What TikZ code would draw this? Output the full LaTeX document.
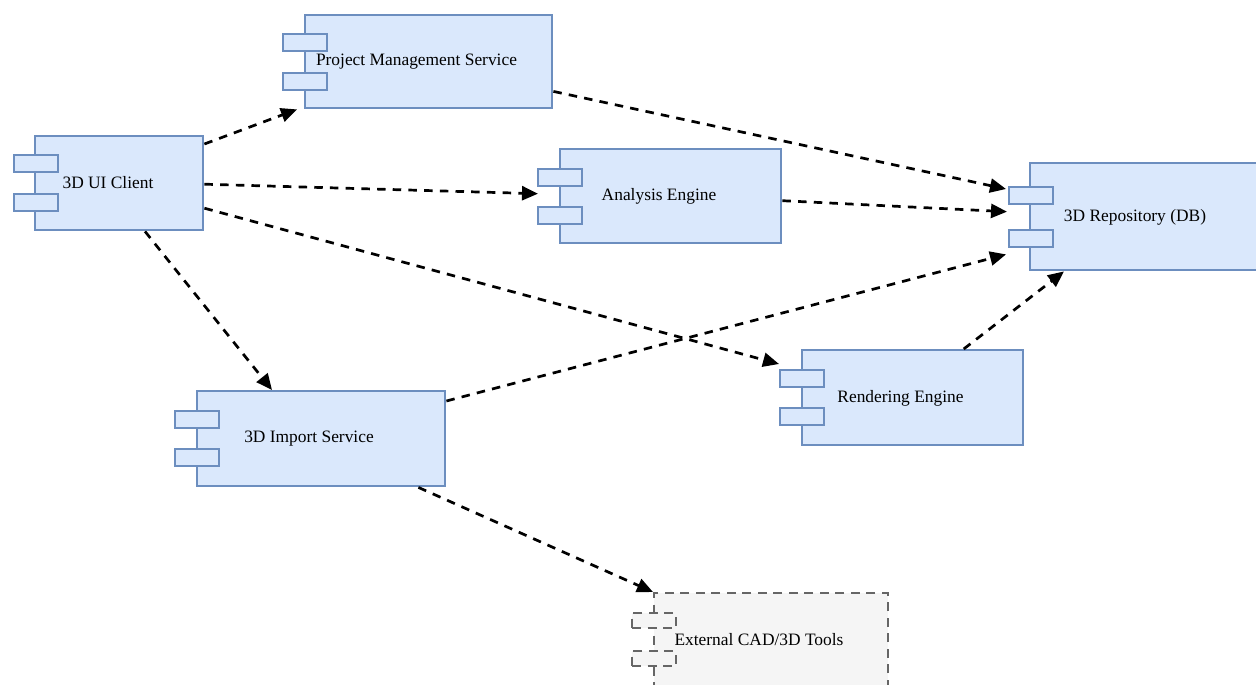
\documentclass[tikz,border=0pt]{standalone}
\usepackage{fontspec}
\setmainfont{Liberation Serif}
\usetikzlibrary{arrows.meta}
\definecolor{compfill}{HTML}{DAE8FC}
\definecolor{compdraw}{HTML}{6C8EBF}
\definecolor{extfill}{HTML}{F5F5F5}
\definecolor{extdraw}{HTML}{666666}
\begin{document}
\begin{tikzpicture}[x=1pt,y=-1pt,
  comp/.style={draw=compdraw,fill=compfill,line width=2.4pt,inner sep=0pt,anchor=north west},
  tab/.style={comp,minimum width=44pt,minimum height=17pt},
  extcomp/.style={draw=extdraw,fill=extfill,line width=2.2pt,inner sep=0pt,anchor=north west,dash pattern=on 9pt off 6.5pt},
  exttab/.style={extcomp,minimum width=44pt,minimum height=15pt},
  lbl/.style={font=\fontsize{17.4}{20}\selectfont,text=black,inner sep=0pt},
  dep/.style={draw=black,line width=2.7pt,dash pattern=on 8.5pt off 7.2pt,-{Triangle[length=16pt,width=14pt]}}
]
\useasboundingbox (0,0) rectangle (1256,685);
\fill[white] (0,0) rectangle (1256,685);

% Project Management Service
\node[comp,minimum width=247pt,minimum height=93pt] (pms) at (304,14) {};
\node[tab] (pmsT1) at (282,33) {};
\node[tab] (pmsT2) at (282,72) {};
\node[lbl] (pmsL) at (416.5,62) {Project Management Service};

% 3D UI Client
\node[comp,minimum width=168pt,minimum height=94pt] (ui) at (34,135) {};
\node[tab] (uiT1) at (13,154) {};
\node[tab] (uiT2) at (13,193) {};
\node[lbl] (uiL) at (108,183) {3D UI Client};

% Analysis Engine
\node[comp,minimum width=221pt,minimum height=94pt] (ae) at (559,148) {};
\node[tab] (aeT1) at (537,168) {};
\node[tab] (aeT2) at (537,206) {};
\node[lbl] (aeL) at (659,196) {Analysis Engine};

% 3D Repository
\node[comp,minimum width=233pt,minimum height=107pt] (repo) at (1029,162) {};
\node[tab] (repoT1) at (1008,186) {};
\node[tab] (repoT2) at (1008,229) {};
\node[lbl] (repoL) at (1135,217) {3D Repository (DB)};

% Rendering Engine
\node[comp,minimum width=221pt,minimum height=95pt] (re) at (801,349) {};
\node[tab] (reT1) at (779,369) {};
\node[tab] (reT2) at (779,407) {};
\node[lbl] (reL) at (900.5,398) {Rendering Engine};

% 3D Import Service
\node[comp,minimum width=248pt,minimum height=95pt] (imp) at (196,390) {};
\node[tab] (impT1) at (174,410) {};
\node[tab] (impT2) at (174,448) {};
\node[lbl] (impL) at (309,439) {3D Import Service};

% External CAD/3D Tools
\node[extcomp,minimum width=234pt,minimum height=94pt] (ext) at (653,592) {};
\node[exttab] (extT1) at (631,612) {};
\node[exttab] (extT2) at (631,650) {};
\node[lbl] (extL) at (759,640) {External CAD/3D Tools};

% Connectors
\draw[dep] ([yshift=-9pt]ui.north east) -- ([xshift=-7pt]pms.south west);
\draw[dep] ([yshift=-1pt]ui.east) -- ([xshift=-21pt,yshift=2.5pt]ae.west);
\draw[dep] ([yshift=-25pt]ui.east) -- ([yshift=5pt]reT1.north west);
\draw[dep] ([xshift=111pt]ui.south west) -- ([xshift=76pt]imp.north west);
\draw[dep] ([yshift=18pt]pms.south east) -- ([xshift=-2pt,yshift=-3pt]repoT1.north west);
\draw[dep] ([yshift=-4.5pt]ae.east) -- ([xshift=-22pt,yshift=5pt]repo.west);
\draw[dep] ([yshift=-11pt]imp.north east) -- ([xshift=-2pt,yshift=-6pt]repoT2.south west);
\draw[dep] ([xshift=51pt]re.north) -- ([xshift=35pt]repo.south west);
\draw[dep] ([xshift=-28pt]imp.south east) -- (ext.north west);
\end{tikzpicture}
\end{document}
